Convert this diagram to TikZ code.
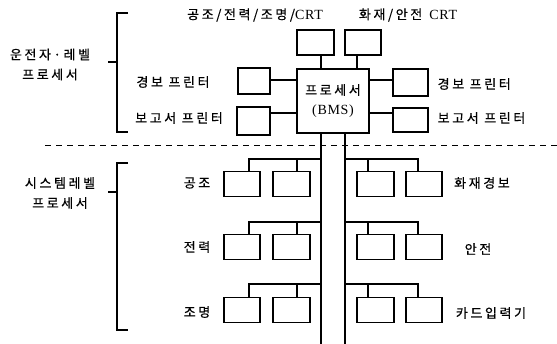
\documentclass[tikz,border=0pt]{standalone}
\usepackage{fontspec}
\setmainfont[LetterSpace=5]{Liberation Serif}
\newfontfamily\kr[LetterSpace=20,FakeBold=0.6]{Noto Sans CJK KR}
\newcommand\krf{\kr\fontsize{13}{20}\selectfont}
\begin{document}
\begin{tikzpicture}[x=1pt,y=-1pt,line width=1.3pt,
  bx/.style={draw,inner sep=0pt,outer sep=0pt},
  lbl/.style={font=\krf,inner sep=0pt,align=center},
  lat/.style={font=\fontsize{14}{20}\selectfont,inner sep=0pt,align=center}]
\useasboundingbox (0,0) rectangle (557,344);
% processor
\node[bx,minimum width=72pt,minimum height=64pt,lat] (bms) at (333,101) {{\krf 프로세서}\\(BMS)};
% top CRT boxes
\node[bx,minimum width=37pt,minimum height=25pt] (t1) at (315.5,42.5) {};
\node[bx,minimum width=36pt,minimum height=25pt] (t2) at (363,42.5) {};
\node[lat] (t1lbl) at (255,15) {{\krf 공조/전력/조명/}CRT};
\node[lat] (t2lbl) at (408,15) {{\krf 화재/안전}\hspace{7pt}CRT};
\coordinate (t1d) at ([xshift=5.5pt]t1.south);
\coordinate (t2d) at ([xshift=-6pt]t2.south);
\draw (t1d) -- (t1d |- bms.north);
\draw (t2d) -- (t2d |- bms.north);
% printers
\node[bx,minimum width=32pt,minimum height=26pt] (lp1) at (254,81) {};
\node[bx,minimum width=33pt,minimum height=28pt] (lp2) at (253.5,121) {};
\node[bx,minimum width=35pt,minimum height=27pt] (rp1) at (410.5,82.5) {};
\node[bx,minimum width=35pt,minimum height=24pt] (rp2) at (410.5,120) {};
\coordinate (c1) at (0,80); \coordinate (c2) at (0,113);
\draw (lp1.east |- c1) -- (bms.west |- c1);
\draw (lp2.east |- c2) -- (bms.west |- c2);
\draw (bms.east |- c1) -- (rp1.west |- c1);
\draw (bms.east |- c2) -- (rp2.west |- c2);
\node[lbl] (lp1lbl) at (173,82) {경보 프린터};
\node[lbl] (lp2lbl) at (179,118) {보고서 프린터};
\node[lbl,anchor=west] (rp1lbl) at (437,84) {경보 프린터};
\node[lbl,anchor=west] (rp2lbl) at (437,118) {보고서 프린터};
% level labels and brackets
\node[lbl] (oplbl) at (50,64.5) {운전자·레벨\\프로세서};
\node[lbl] (syslbl) at (60,193) {시스템레벨\\프로세서};
\draw (128,13) -- (117,13) -- (117,132) -- (128,132);
\draw (108,62) -- (117,62);
\draw (128,163) -- (117,163) -- (117,330) -- (128,330);
\draw (108,192) -- (117,192);
% dashed separator
\draw[line width=1pt,dash pattern=on 6pt off 5pt] (45,146) -- (557,146);
% bus
\coordinate (busL) at (321,344);
\coordinate (busR) at (345,344);
\draw (bms.south -| busL) -- (busL);
\draw (bms.south -| busR) -- (busR);
% subsystem boxes
\foreach \r/\y in {1/184,2/247,3/310}{
  \node[bx,minimum width=36pt,minimum height=25pt] (a\r) at (242,\y) {};
  \node[bx,minimum width=37pt,minimum height=25pt] (b\r) at (291.5,\y) {};
  \node[bx,minimum width=37pt,minimum height=25pt] (c\r) at (375.5,\y) {};
  \node[bx,minimum width=36pt,minimum height=25pt] (e\r) at (424,\y) {};
  \coordinate (da\r) at ([xshift=7pt]a\r.north);
  \coordinate (db\r) at ([xshift=5.5pt]b\r.north);
  \coordinate (dc\r) at ([xshift=-7.5pt]c\r.north);
  \coordinate (de\r) at ([xshift=-6pt]e\r.north);
}
\foreach \r/\h in {1/159,2/222,3/284}{
  \coordinate (hL\r) at (321,\h);
  \coordinate (hR\r) at (345,\h);
  \draw (hL\r) -| (da\r);
  \draw (db\r) -- (db\r |- hL\r);
  \draw (hR\r) -| (de\r);
  \draw (dc\r) -- (dc\r |- hR\r);
}
\node[lbl] (l1) at (197,183) {공조};
\node[lbl] (l2) at (197,247) {전력};
\node[lbl] (l3) at (197,312) {조명};
\node[lbl] (r1) at (482,183) {화재경보};
\node[lbl] (r2) at (478,249) {안전};
\node[lbl] (r3) at (491,313) {카드입력기};
\end{tikzpicture}
\end{document}
